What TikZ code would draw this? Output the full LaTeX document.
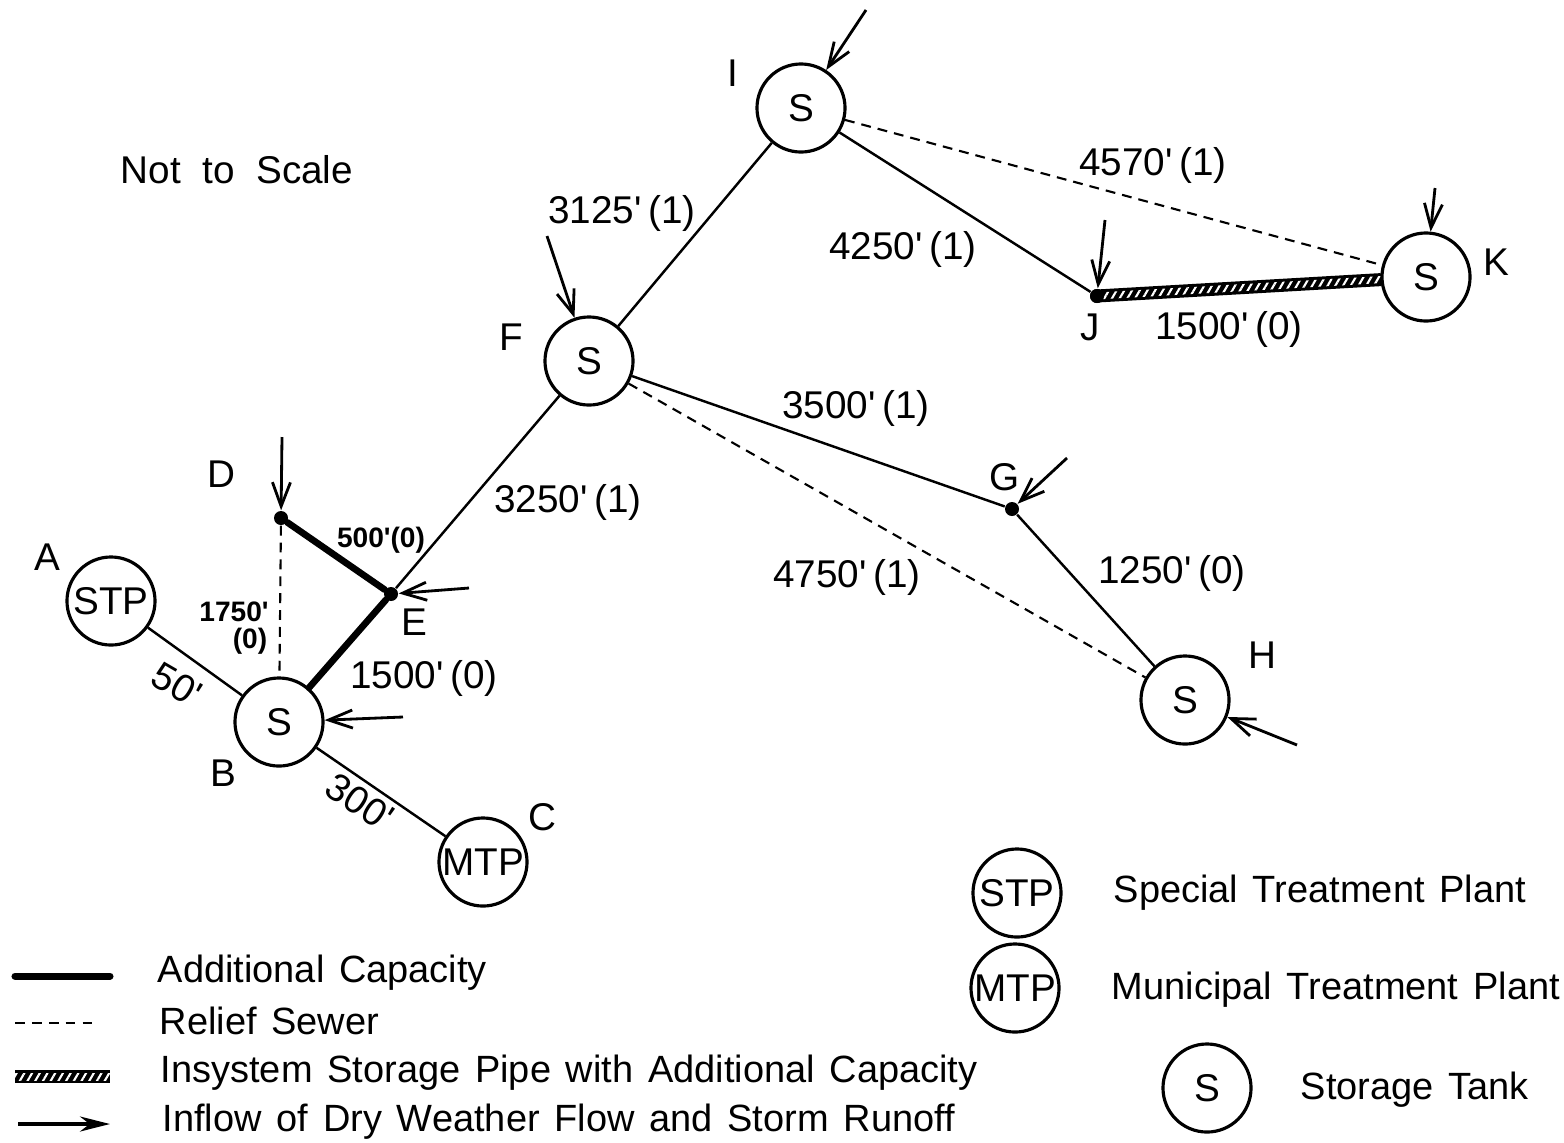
\documentclass[tikz,border=0pt]{standalone}
\usepackage{fontspec}
\setmainfont{Liberation Sans}
\newfontfamily\legfont{Liberation Sans}[WordSpace=1.4]
\usetikzlibrary{arrows.meta,calc,patterns.meta}

\newcommand{\ft}{\textquotesingle}

\tikzset{
  tank/.style={draw, circle, line width=0.9pt, minimum size=0.88cm, inner sep=0pt},
  junc/.style={circle, fill, inner sep=0pt, minimum size=0.14cm},
  sewer/.style={line width=0.7pt},
  addcap/.style={line width=1.9pt, line cap=round},
  relief/.style={line width=0.6pt, dash pattern=on 2.8pt off 2pt},
  inflow/.style={line width=0.8pt, -{Straight Barb[length=0.24cm,width=0.18cm]}},
  hatchfill/.style={pattern={Lines[angle=60,distance=1.9pt,line width=0.6pt]}, pattern color=white},
  smalltxt/.style={font=\fontsize{8}{9}\selectfont\bfseries},
  legtxt/.style={anchor=west, inner sep=0pt, font=\legfont\fontsize{10.8}{13}\selectfont},
}

\begin{document}
\begin{tikzpicture}[x=0.01cm, y=-0.01cm, font=\fontsize{11}{13}\selectfont]
  \useasboundingbox (0,0) rectangle (1564,1142);

  % ---------- tanks, plants and junctions ----------
  \node[tank] (I) at (801,108) {S};
  \node[tank] (K) at (1426,277) {S};
  \node[tank] (F) at (589,361) {S};
  \node[tank] (H) at (1185,700) {S};
  \node[tank] (A) at (111,601) {STP};
  \node[tank] (B) at (279,722) {S};
  \node[tank] (C) at (483,862) {MTP};
  \node[junc] (J) at (1097,296) {};
  \node[junc] (G) at (1012,509) {};
  \node[junc] (D) at (281,518) {};
  \node[junc] (E) at (391,594) {};

  % ---------- point letters ----------
  \node (nI) at (733,73) {I};
  \node (nK) at (1496,262) {K};
  \node (nJ) at (1090,327) {J};
  \node (nF) at (511,337) {F};
  \node (nG) at (1005,477) {G};
  \node (nH) at (1262,655) {H};
  \node (nD) at (221,474) {D};
  \node (nE) at (414,622) {E};
  \node (nA) at (47,557) {A};
  \node (nB) at (223,773) {B};
  \node (nC) at (542,817) {C};

  \node (scale) at (237,170) {Not\ \ to\ \ Scale};

  % ---------- sewers ----------
  \draw[sewer] (I) -- (F);
  \draw[sewer] (I) -- (J);
  \draw[relief] (I) -- (K);
  \draw[sewer] (F) -- (G);
  \draw[relief] (F) -- (H);
  \draw[sewer] (G) -- (H);
  \draw[sewer] (F) -- (E);
  \draw[addcap] (D) -- (E);
  \draw[addcap] (E) -- (B);
  \draw[relief] (D) -- (B);
  \draw[sewer] (A) -- (B);
  \draw[sewer] (B) -- (C);

  % ---------- insystem storage pipe J-K ----------
  \coordinate (Kp) at ($(K)!0.45cm!(J)$);
  \fill ($(J)!0.065cm!90:(K)$) -- ($(Kp)!0.065cm!-90:(J)$)
     -- ($(Kp)!0.065cm!90:(J)$) -- ($(J)!0.065cm!-90:(K)$) -- cycle;
  \fill[hatchfill] ($(J)!0.035cm!90:(K)$) -- ($(Kp)!0.035cm!-90:(J)$)
     -- ($(Kp)!0.035cm!90:(J)$) -- ($(J)!0.035cm!-90:(K)$) -- cycle;
  \node[junc] at (J) {};

  % ---------- lengths ----------
  \node (lIF) at (622,213) {3125\ft\,(1)};
  \node (lIK) at (1153,165) {4570\ft\,(1)};
  \node (lIJ) at (903,249) {4250\ft\,(1)};
  \node (lJK) at (1229,329) {1500\ft\,(0)};
  \node (lFG) at (856,408) {3500\ft\,(1)};
  \node (lFE) at (568,502) {3250\ft\,(1)};
  \node[smalltxt] (lDE) at (381,540) {500\ft(0)};
  \node (lFH) at (847,577) {4750\ft\,(1)};
  \node (lGH) at (1172,573) {1250\ft\,(0)};
  \node[smalltxt] (lDB) at (234,612) {1750\ft};
  \node[smalltxt] (lDBb) at (250,641) {(0)};
  \node (lEB) at (424,678) {1500\ft\,(0)};
  \node[rotate=-30, inner sep=0pt] (lAB) at (177,685) {50\ft};
  \node[rotate=-33, inner sep=0pt] (lBC) at (360,802) {300\ft};

  % ---------- inflows ----------
  \coordinate (qI) at (866,10);
  \coordinate (qK) at (1435,188);
  \coordinate (qJ) at (1105,220);
  \coordinate (qF) at (547,236);
  \coordinate (qG) at (1067,458);
  \coordinate (qH) at (1297,745);
  \coordinate (qD) at (282,437);
  \coordinate (qE) at (469,588);
  \coordinate (qB) at (403,717);
  \foreach \p in {I,K,J,F,G,H,D,E,B}
    \draw[inflow] (q\p) -- (\p);

  % ---------- legend, left ----------
  \coordinate (k1a) at (15,976);   \coordinate (k1b) at (110,976);
  \coordinate (k2a) at (15,1023);  \coordinate (k2b) at (97,1023);
  \coordinate (k4a) at (18,1124);  \coordinate (k4b) at (110,1124);
  \draw[addcap, line width=2pt] (k1a) -- (k1b);
  \draw[relief] (k2a) -- (k2b);
  \fill (15,1070) rectangle (110,1083);
  \fill[hatchfill] (15,1073) rectangle (110,1080);
  \draw[line width=1pt, -{Stealth[length=0.3cm,width=0.15cm]}] (k4a) -- (k4b);
  \node[legtxt] (t1) at (157,973) {Additional Capacity};
  \node[legtxt] (t2) at (159,1021) {Relief Sewer};
  \node[legtxt] (t3) at (160,1073) {Insystem Storage Pipe with Additional Capacity};
  \node[legtxt] (t4) at (162,1122) {Inflow of Dry Weather Flow and Storm Runoff};

  % ---------- legend, right ----------
  \node[tank] (kSTP) at (1017,893) {STP};
  \node[tank] (kMTP) at (1015,988) {MTP};
  \node[tank] (kS) at (1207,1088) {S};
  \node[legtxt] (t5) at (1113,893) {Special Treatment Plant};
  \node[legtxt] (t6) at (1111,990) {Municipal Treatment Plant};
  \node[legtxt] (t7) at (1300,1090) {Storage Tank};
\end{tikzpicture}
\end{document}
